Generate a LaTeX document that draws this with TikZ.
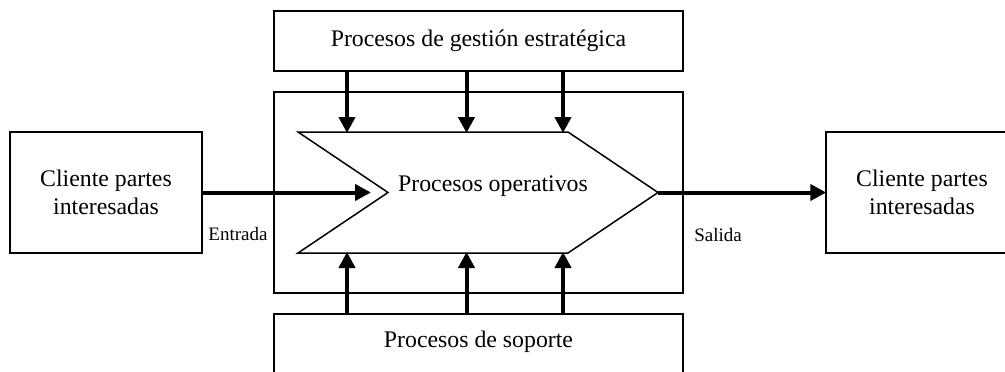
\documentclass[tikz,border=0pt]{standalone}
\usepackage{fontspec}
\setmainfont{Liberation Serif}
\usetikzlibrary{arrows.meta}
\begin{document}
\begin{tikzpicture}[x=1pt,y=-1pt,
  box/.style={draw, line width=1.5pt, inner sep=0pt, align=center,
    font=\fontsize{23.8}{28}\selectfont},
  lbl/.style={inner sep=0pt, font=\fontsize{19}{22}\selectfont},
  flow/.style={line width=4pt, -{Triangle[width=16pt,length=16pt]}, shorten >=-1pt}
]
\useasboundingbox (0,0) rectangle (1005,372);
\clip (0,0) rectangle (1005,372);

% strategic, operative frame and support boxes
\node[box, minimum width=409, minimum height=60] (estr) at (478.5,41)
  {Procesos de gesti\'on estrat\'egica};
\node[box, minimum width=409, minimum height=201] (marco) at (478.5,192.5) {};
\node[box, minimum width=409, minimum height=62, text depth=11pt] (sop) at (478.5,345)
  {Procesos de soporte};

% customer boxes
\node[box, minimum width=192, minimum height=121] (cliI) at (106,192.5)
  {Cliente partes\\interesadas};
\node[box, minimum width=192, minimum height=121] (cliD) at (922,192.5)
  {Cliente partes\\interesadas};

% operative process chevron
\coordinate (ca) at (298,132);
\coordinate (cb) at (568,132);
\coordinate (punta) at (658,192.5);
\coordinate (cc) at (568,253);
\coordinate (cd) at (298,253);
\coordinate (muesca) at (388,192.5);
\draw[line width=1.5pt, line join=miter] (ca) -- (cb) -- (punta) -- (cc) -- (cd) -- (muesca) -- cycle;
\node[inner sep=0pt, font=\fontsize{23.8}{28}\selectfont] (oper) at (493,186) {Procesos operativos};

% arrow end points on the chevron
\coordinate (s1) at (347,132);
\coordinate (s2) at (466.5,132);
\coordinate (s3) at (563,132);
\coordinate (i1) at (347,253);
\coordinate (i2) at (466.5,253);
\coordinate (i3) at (563,253);
\coordinate (entra) at (370,192.5);

% strategic inputs
\draw[flow] (estr.south -| s1) -- (s1);
\draw[flow] (estr.south -| s2) -- (s2);
\draw[flow] (estr.south -| s3) -- (s3);
% support inputs
\draw[flow] (sop.north -| i1) -- (i1);
\draw[flow] (sop.north -| i2) -- (i2);
\draw[flow] (sop.north -| i3) -- (i3);

% input and output
\draw[flow] (cliI.east) -- (entra);
\draw[flow] (punta) -- (cliD.west);

\node[lbl] (ent) at (238,234) {Entrada};
\node[lbl] (sal) at (718,235) {Salida};
\end{tikzpicture}
\end{document}
